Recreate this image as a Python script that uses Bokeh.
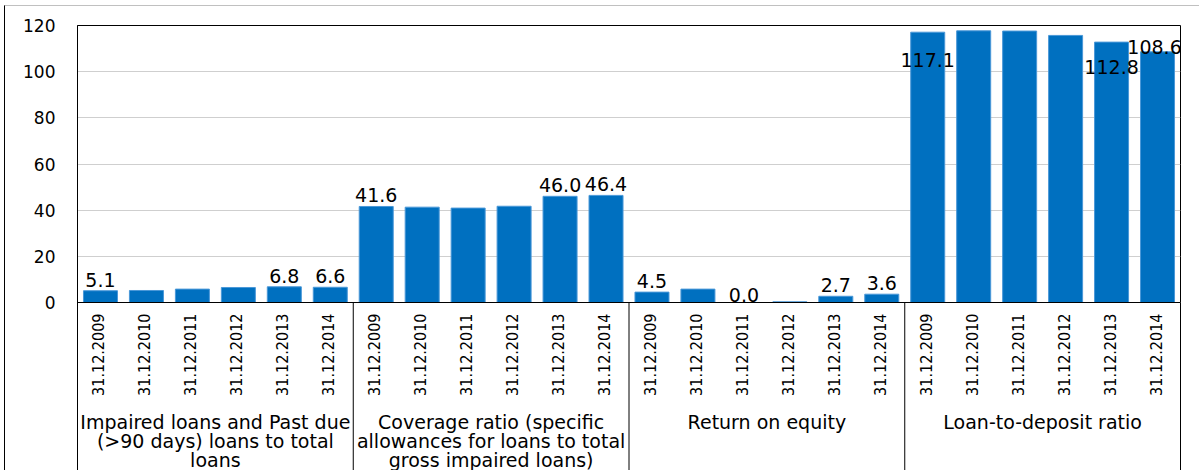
import math
from bokeh.plotting import figure
from bokeh.models import ColumnDataSource, FactorRange, FixedTicker, Span, Range1d
from bokeh.core.properties import value
from bokeh.embed import file_html
from bokeh.resources import INLINE

# ---- data ----
group_names = ["Impaired loans and Past due (>90 days) loans to total loans",
               "Coverage ratio (specific allowances for loans to total gross impaired loans)",
               "Return on equity",
               "Loan-to-deposit ratio"]
group_labels = ["Impaired loans and Past due\n(>90 days) loans to total\nloans",
                "Coverage ratio (specific\nallowances for loans to total\ngross impaired loans)",
                "Return on equity",
                "Loan-to-deposit ratio"]
dates = ["31.12.2009", "31.12.2010", "31.12.2011", "31.12.2012", "31.12.2013", "31.12.2014"]
impaired = [5.1, 5.2, 5.8, 6.5, 6.8, 6.6]
coverage = [41.6, 41.3, 40.9, 41.7, 46.0, 46.4]
roe = [4.5, 5.8, 0.0, 0.3, 2.7, 3.6]
loan_to_deposit = [117.1, 117.7, 117.6, 115.7, 112.8, 108.6]
labelled = [[0, 4, 5], [0, 4, 5], [0, 2, 4, 5], [0, 4, 5]]
y_ticks = [0, 20, 40, 60, 80, 100, 120]

series = [impaired, coverage, roe, loan_to_deposit]

# ---- label placement (screen px, positive = down) ----
default_dy = -11
special_dy = {(2, 2): -8, (3, 0): 28, (3, 4): 25, (3, 5): -5}
special_dx = {(3, 5): -3}

factors = [(g, d) for g in group_names for d in dates]
values = [v for s in series for v in s]

W, H = 1195, 465
top_px, zero_px, bottom_px = 25, 302, 471
y_start = -120 * (bottom_px - zero_px) / (zero_px - top_px)

p = figure(width=W, height=H,
           x_range=FactorRange(factors=factors, group_padding=0, factor_padding=0,
                               subgroup_padding=0, range_padding=0),
           y_range=Range1d(y_start, 120),
           x_axis_location=None,
           output_backend="svg", toolbar_location=None,
           min_border_left=72, min_border_right=20, min_border_top=19, min_border_bottom=0)

p.background_fill_color = "white"
p.border_fill_color = "white"
p.outline_line_color = "black"
p.outline_line_width = 1
p.styles = {"position": "absolute", "left": "4px", "top": "5px",
            "border-top": "1px solid #c0c0c0", "border-left": "1px solid #000000"}

p.xgrid.visible = False
p.ygrid.ticker = FixedTicker(ticks=y_ticks)
p.ygrid.grid_line_color = "#cfcfcf"
p.ygrid.grid_line_width = 1

ax = p.yaxis[0]
ax.ticker = FixedTicker(ticks=y_ticks)
ax.major_tick_in = 0
ax.major_tick_out = 0
ax.minor_tick_line_color = None
ax.axis_line_color = "black"
ax.major_label_text_font = "DejaVu Sans"
ax.major_label_text_font_size = "17px"
ax.major_label_text_color = "black"
ax.major_label_standoff = 22

src = ColumnDataSource(dict(x=factors, top=values))
p.vbar(x="x", top="top", bottom=0, width=0.74, source=src,
       fill_color="#0070C0", line_color="#4a98d8", line_width=1)

# x-axis line at zero
p.add_layout(Span(location=0, dimension="width", line_color="black", line_width=1))

# group separators
sep_x = [(g, dates[-1], 0.5) for g in group_names[:-1]]
p.segment(x0=sep_x, y0=[0] * len(sep_x), x1=sep_x, y1=[y_start] * len(sep_x),
          line_color="black", line_width=1)

# date tick labels (rotated)
p.text(x=factors, y=[0] * len(factors), text=[d for g in group_names for d in dates],
       angle=math.pi / 2, text_align="right", text_baseline="middle",
       x_offset=-2, y_offset=11,
       text_font=value("DejaVu Sans Condensed"), text_font_size="16px", text_color="black")

# group labels
p.text(x=group_names, y=[0] * len(group_names), text=group_labels,
       text_align="center", text_baseline="top", y_offset=108, text_line_height=0.87,
       text_font=value("DejaVu Sans"), text_font_size="19px", text_color="black")

# value labels
lx, ly, lt, ldy, ldx = [], [], [], [], []
for gi, idxs in enumerate(labelled):
    for di in idxs:
        v = series[gi][di]
        lx.append((group_names[gi], dates[di]))
        ly.append(v)
        lt.append(f"{v:.1f}")
        ldy.append(special_dy.get((gi, di), default_dy))
        ldx.append(special_dx.get((gi, di), 0))
p.text(x=lx, y=ly, text=lt, x_offset=ldx, y_offset=ldy, text_align="center",
       text_baseline="alphabetic",
       text_font=value("DejaVu Sans"), text_font_size="19px", text_color="black")

open("out.html", "w").write(file_html(p, INLINE))
